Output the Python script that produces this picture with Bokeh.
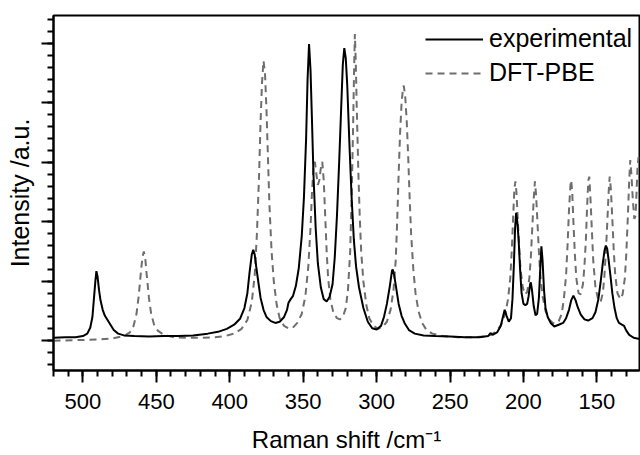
from bokeh.plotting import figure
from bokeh.models import (Range1d, SingleIntervalTicker, CustomJSTickFormatter,
                          Legend, LegendItem)
from bokeh.embed import file_html
from bokeh.resources import INLINE

# ---- data ----
exp_x = [520, 512, 505, 500, 497, 495, 493.5, 492.5, 491.5, 490.8, 490, 489, 488, 486.5,
         485, 483, 481, 479, 476, 472, 465, 455, 445, 435, 425, 415, 408, 402, 397, 393,
         390, 388, 386.5, 385, 384, 383, 382, 380.5, 379, 377, 375, 372, 369, 366, 363,
         361, 360, 358.5, 357, 355, 353, 351, 349.5, 348, 347, 346, 345, 344, 343, 341.5,
         340, 338, 336, 334, 332, 330, 328.5, 327, 325.5, 324, 323, 322, 321, 320, 318.5,
         317, 315.5, 314, 312, 309, 306, 303, 300, 297, 295, 293, 291, 289.5, 289, 288,
         286.5, 285, 283, 281, 278, 274, 268, 260, 250, 240, 230, 224, 222.5, 221, 218,
         215.5, 213.5, 212.8, 211.5, 210, 208.5, 207.5, 206.5, 205.7, 205, 204.2, 203.3,
         202.3, 201.3, 200, 198.7, 197.5, 196.5, 195.5, 195, 194.2, 193, 191.8, 190.7,
         189.5, 188.5, 187.8, 187, 186, 185, 183.5, 181.5, 179, 176, 173, 171, 169, 167.5,
         166, 164.5, 163, 161, 158.5, 156, 153, 151, 149, 147.5, 146, 144.8, 143.9, 143,
         142, 140.8, 139.5, 138, 136.5, 135, 133, 131.5, 130, 128, 125, 121]
exp_y = [0.05, 0.06, 0.06, 0.08, 0.12, 0.22, 0.40, 0.70, 1.00, 1.17, 1.08, 0.85, 0.68, 0.52,
         0.42, 0.34, 0.26, 0.18, 0.12, 0.09, 0.08, 0.07, 0.08, 0.08, 0.09, 0.12, 0.15, 0.20,
         0.27, 0.37, 0.55, 0.80, 1.15, 1.45, 1.53, 1.45, 1.25, 0.98, 0.72, 0.52, 0.40, 0.33,
         0.30, 0.32, 0.40, 0.52, 0.64, 0.70, 0.75, 0.92, 1.22, 1.75, 2.40, 3.40, 4.40, 4.99,
         4.55, 3.70, 2.80, 1.90, 1.30, 0.90, 0.70, 0.66, 0.74, 0.95, 1.40, 2.10, 3.00, 4.00,
         4.65, 4.92, 4.75, 4.30, 3.30, 2.40, 1.70, 1.25, 0.90, 0.55, 0.32, 0.21, 0.19, 0.25,
         0.40, 0.62, 0.92, 1.18, 1.20, 1.10, 0.86, 0.62, 0.42, 0.30, 0.18, 0.12, 0.09, 0.08,
         0.07, 0.06, 0.06, 0.08, 0.13, 0.10, 0.14, 0.25, 0.45, 0.52, 0.42, 0.32, 0.38, 0.70,
         1.30, 1.90, 2.15, 2.00, 1.70, 1.20, 0.80, 0.62, 0.60, 0.62, 0.75, 0.95, 0.98, 0.85,
         0.58, 0.43, 0.45, 0.72, 1.25, 1.59, 1.35, 0.85, 0.55, 0.40, 0.30, 0.24, 0.27, 0.30,
         0.38, 0.52, 0.68, 0.76, 0.68, 0.56, 0.44, 0.36, 0.34, 0.38, 0.48, 0.70, 0.98, 1.30,
         1.52, 1.60, 1.55, 1.35, 1.10, 0.80, 0.55, 0.38, 0.30, 0.27, 0.25, 0.17, 0.10, 0.05,
         0.03]

dft_x = [520, 505, 490, 480, 472, 468, 465.5, 463.5, 462, 460.5, 459.5, 458.5, 457.5, 456.5,
         455, 453.5, 451.5, 449, 445, 438, 428, 418, 410, 403, 397, 392, 388, 385, 383,
         381.5, 380, 379, 378, 377, 376, 375, 374, 373, 371.5, 370, 368, 366, 363, 360, 357,
         354, 351, 348.5, 346.5, 345, 344, 343, 342, 341, 340, 339, 338, 337, 336, 335, 334,
         333, 331.5, 329.5, 327, 325, 323, 321, 319.5, 318, 317, 316, 315.3, 314.8, 314.2,
         313.5, 312.5, 311.5, 310.5, 309, 307, 305, 302, 299, 296, 293, 290.5, 288.5, 287,
         286, 285, 284, 283, 282, 281.5, 280.5, 279.5, 278.5, 277.5, 276.5, 275, 273.5,
         271.5, 269, 266, 262, 255, 245, 235, 227, 222, 218, 215, 212.5, 210.5, 209, 208,
         207, 206.2, 205.5, 204.8, 204, 203, 202, 200.5, 199, 197.5, 196, 195, 194, 193,
         192.2, 191.4, 190.5, 189.5, 188.5, 187, 185, 182.5, 180, 178, 176, 174, 172.5, 171,
         170, 169, 168, 167.5, 166.8, 166, 165, 164, 162.5, 161, 159.5, 158.5, 157.5, 156.6,
         155.8, 155.2, 154.5, 153.5, 152.5, 151, 149, 147.5, 146, 145, 144, 143, 142, 141.3,
         140.5, 139.5, 138.5, 137.5, 136, 134, 132.5, 131, 130, 129, 128, 127.3, 126.5,
         125.5, 124.5, 123.7, 123, 122.3, 121.6, 121]
dft_y = [0.00, 0.01, 0.02, 0.04, 0.08, 0.14, 0.25, 0.45, 0.75, 1.15, 1.40, 1.50, 1.38, 1.10,
         0.72, 0.45, 0.27, 0.17, 0.10, 0.06, 0.05, 0.05, 0.06, 0.08, 0.12, 0.20, 0.35, 0.65,
         1.10, 1.80, 2.80, 3.70, 4.35, 4.71, 4.50, 3.90, 3.10, 2.30, 1.50, 1.00, 0.60, 0.38,
         0.25, 0.21, 0.22, 0.30, 0.45, 0.75, 1.25, 1.90, 2.50, 2.90, 3.01, 2.80, 2.62, 2.70,
         2.90, 3.01, 2.70, 2.10, 1.50, 1.05, 0.70, 0.48, 0.38, 0.36, 0.40, 0.55, 0.85, 1.50,
         2.40, 3.60, 4.60, 5.16, 4.70, 3.90, 2.90, 2.10, 1.50, 1.00, 0.60, 0.38, 0.25, 0.20,
         0.23, 0.32, 0.52, 0.85, 1.35, 2.00, 2.80, 3.50, 4.00, 4.25, 4.29, 4.10, 3.70, 3.10,
         2.40, 1.80, 1.20, 0.80, 0.50, 0.30, 0.18, 0.12, 0.08, 0.06, 0.06, 0.07, 0.10, 0.17,
         0.28, 0.45, 0.70, 1.05, 1.50, 2.10, 2.55, 2.68, 2.50, 2.10, 1.60, 1.20, 0.90, 0.78,
         0.82, 1.05, 1.40, 1.90, 2.40, 2.68, 2.45, 2.00, 1.50, 1.10, 0.75, 0.50, 0.36, 0.30,
         0.29, 0.33, 0.45, 0.70, 1.10, 1.60, 2.20, 2.62, 2.70, 2.50, 2.00, 1.45, 1.05, 0.80,
         0.78, 0.95, 1.25, 1.70, 2.30, 2.70, 2.76, 2.45, 1.90, 1.35, 0.90, 0.68, 0.65, 0.80,
         1.05, 1.45, 1.95, 2.50, 2.76, 2.55, 2.05, 1.50, 1.10, 0.80, 0.70, 0.78, 1.05, 1.45,
         2.05, 2.70, 3.04, 2.80, 2.35, 2.05, 2.10, 2.50, 2.95, 3.09, 3.00]

series_labels = ["experimental", "DFT-PBE"]
x_label = "Raman shift /cm\u207b\u00b9"
y_label = "Intensity /a.u."

FONT = "Liberation Sans"

p = figure(width=640, height=455, output_backend="svg", toolbar_location=None,
           x_range=Range1d(520, 121), y_range=Range1d(-0.5, 5.47),
           min_border_left=53, min_border_right=1, min_border_top=15,
           min_border_bottom=83, background_fill_color="white",
           border_fill_color="white")
p.grid.visible = False
p.outline_line_color = "black"
p.outline_line_width = 2
p.outline_line_alpha = 1

r_dft = p.line(dft_x, dft_y, line_color="#6e6e6e", line_width=2, line_dash="7 5")
r_exp = p.line(exp_x, exp_y, line_color="black", line_width=2)

xa = p.xaxis[0]
xa.ticker = SingleIntervalTicker(interval=50, num_minor_ticks=5)
xa.axis_line_width = 2
xa.major_tick_line_width = 2
xa.minor_tick_line_width = 2
xa.major_tick_out = 12
xa.major_tick_in = 0
xa.minor_tick_out = 6
xa.minor_tick_in = 0
xa.major_label_text_font = FONT
xa.major_label_text_font_size = "22px"
xa.major_label_text_color = "black"
xa.major_label_standoff = 11
xa.axis_label = x_label
xa.axis_label_text_font = FONT
xa.axis_label_text_font_size = "24px"
xa.axis_label_text_font_style = "normal"
xa.axis_label_text_color = "black"
xa.axis_label_standoff = 14

ya = p.yaxis[0]
ya.ticker = SingleIntervalTicker(interval=1, num_minor_ticks=5)
ya.formatter = CustomJSTickFormatter(code="return ''")
ya.axis_line_width = 2
ya.major_tick_line_width = 2
ya.minor_tick_line_width = 2
ya.major_tick_out = 12
ya.major_tick_in = 0
ya.minor_tick_out = 6
ya.minor_tick_in = 0
ya.major_label_standoff = 0
ya.axis_label = y_label
ya.axis_label_text_font = FONT
ya.axis_label_text_font_size = "25px"
ya.axis_label_text_font_style = "normal"
ya.axis_label_text_color = "black"
ya.axis_label_standoff = 8

legend = Legend(items=[LegendItem(label=series_labels[0], renderers=[r_exp]),
                       LegendItem(label=series_labels[1], renderers=[r_dft])],
                location=(372, 283), border_line_color=None,
                background_fill_alpha=0, glyph_width=58, glyph_height=24,
                label_height=24, label_standoff=6, spacing=5, padding=0, margin=0,
                label_text_font=FONT, label_text_font_size="25px",
                label_text_color="black")
p.add_layout(legend)

open("out.html", "w").write(file_html(p, INLINE))
